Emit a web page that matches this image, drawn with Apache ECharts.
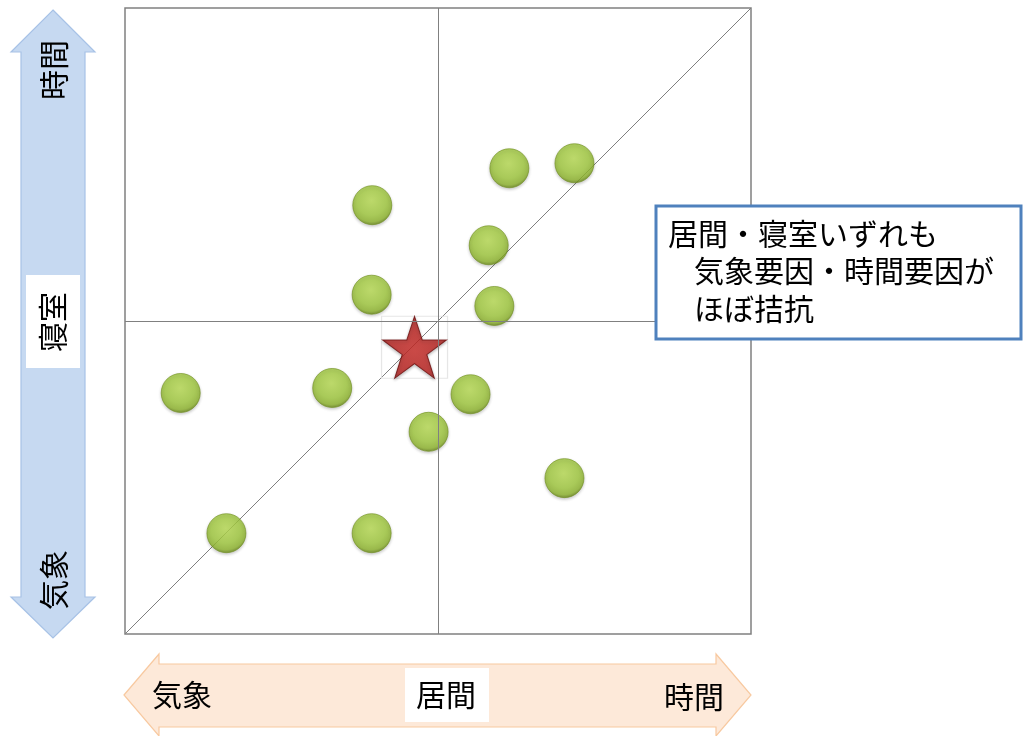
<!DOCTYPE html>
<html>
<head>
<meta charset="utf-8">
<script src="https://cdn.jsdelivr.net/npm/echarts@6/dist/echarts.min.js"></script>
<style>
  html, body { margin: 0; padding: 0; background: #ffffff; }
  #chart { width: 1024px; height: 736px; }
</style>
</head>
<body>
<div id="chart"></div>
<script>
// Horizontal position: 気象 (-5) ... 時間 (+5) for 居間
// Vertical position:   気象 (-5) ... 時間 (+5) for 寝室
const dotX = [1.14, 2.18, -1.05, 0.81, -1.06, 0.90, -4.11, -1.69, 0.52, -0.15, 2.02, -3.38, -1.06];
const dotY = [2.44, 2.52, 1.85, 1.21, 0.42, 0.24, -1.15, -1.07, -1.17, -1.77, -2.51, -3.39, -3.39];
const centerX = [-0.375];
const centerY = [-0.42];
const axisMin = -5;
const axisMax = 5;
const labelsX = ['気象', '居間', '時間'];
const labelsY = ['気象', '寝室', '時間'];
const noteLines = ['居間・寝室いずれも', '　気象要因・時間要因が', '　ほぼ拮抗'];

const FONT = '"Noto Sans CJK JP", "Noto Sans", sans-serif';
const chart = echarts.init(document.getElementById('chart'), null, { renderer: 'canvas' });

const STAR = 'path://M50,0 L61.8,35.1 L98.9,35.1 L68.8,56.8 L80.3,91.9 L50,70.2 L19.7,91.9 L31.2,56.8 L1.1,35.1 L38.2,35.1 Z';

const dotData = dotX.map((x, i) => [x, dotY[i]]);
const centerData = centerX.map((x, i) => [x, centerY[i]]);

function vText(text, x, y) {
  return {
    type: 'text', x: x, y: y, rotation: Math.PI / 2, z: 5,
    style: { text: text, x: 0, y: 0, align: 'center', verticalAlign: 'middle',
             font: '30px ' + FONT, fill: '#000000' }
  };
}
function hText(text, x, y) {
  return {
    type: 'text', x: x, y: y, z: 5,
    style: { text: text, x: 0, y: 0, align: 'center', verticalAlign: 'middle',
             font: '30px ' + FONT, fill: '#000000' }
  };
}
function noteText(text, x, y) {
  return {
    type: 'text', z: 7, x: x, y: y,
    style: { text: text, x: 0, y: 0, align: 'left', verticalAlign: 'middle',
             font: '30px ' + FONT, fill: '#000000' }
  };
}

const option = {
  backgroundColor: '#ffffff',
  animation: false,
  grid: {
    left: 125, top: 8, width: 626, height: 626,
    show: true, borderColor: '#808080', borderWidth: 1.5, backgroundColor: 'transparent'
  },
  xAxis: {
    type: 'value', min: axisMin, max: axisMax,
    axisLine: { show: false }, axisTick: { show: false },
    axisLabel: { show: false }, splitLine: { show: false }
  },
  yAxis: {
    type: 'value', min: axisMin, max: axisMax,
    axisLine: { show: false }, axisTick: { show: false },
    axisLabel: { show: false }, splitLine: { show: false }
  },
  series: [
    {
      // diagonal: both rooms equally balanced
      type: 'line',
      data: [[axisMin, axisMin], [axisMax, axisMax]],
      symbol: 'none',
      lineStyle: { color: '#7f7f7f', width: 1 },
      z: 1,
      markLine: {
        silent: true, symbol: 'none', label: { show: false },
        lineStyle: { color: '#808080', width: 1, type: 'solid' },
        data: [{ xAxis: 0 }, { yAxis: 0 }]
      }
    },
    {
      type: 'scatter',
      data: dotData,
      symbol: 'circle',
      symbolSize: 39,
      z: 3,
      itemStyle: {
        color: {
          type: 'radial', x: 0.48, y: 0.38, r: 0.62,
          colorStops: [
            { offset: 0, color: '#b8dc52' },
            { offset: 0.6, color: '#a0c93c' },
            { offset: 0.86, color: '#8db42b' },
            { offset: 1, color: '#627f12' }
          ]
        },
        borderColor: '#6f8f1e', borderWidth: 0.8,
        shadowColor: 'rgba(0,0,0,0.25)', shadowBlur: 3, shadowOffsetY: 1.5
      }
    },
    {
      type: 'scatter',
      data: centerData,
      symbol: 'rect',
      symbolSize: [66, 62],
      z: 3,
      itemStyle: { color: 'rgba(255,255,255,0)', borderColor: '#e0e0e0', borderWidth: 1.2 }
    },
    {
      type: 'scatter',
      data: centerData,
      symbol: STAR,
      symbolSize: [64, 62],
      z: 4,
      itemStyle: {
        color: {
          type: 'radial', x: 0.5, y: 0.55, r: 0.6,
          colorStops: [
            { offset: 0, color: '#cc2c28' },
            { offset: 0.7, color: '#b8201d' },
            { offset: 1, color: '#861010' }
          ]
        },
        borderColor: '#6e0e0c', borderWidth: 1,
        shadowColor: 'rgba(0,0,0,0.3)', shadowBlur: 3, shadowOffsetY: 1.5
      }
    }
  ],
  graphic: [
    // vertical double arrow (寝室)
    {
      type: 'polygon', z: 1,
      shape: { points: [[53, 10], [95, 52], [85, 52], [85, 597], [95, 597], [53, 638],
                        [11, 597], [21, 597], [21, 52], [11, 52]] },
      style: { fill: '#c6d9f1', stroke: '#a7c2e6', lineWidth: 1.2 }
    },
    { type: 'rect', z: 2, shape: { x: 26, y: 275, width: 54, height: 93 }, style: { fill: '#ffffff' } },
    vText(labelsY[2], 54, 70),
    vText(labelsY[1], 53, 322),
    vText(labelsY[0], 54, 580),
    // horizontal double arrow (居間)
    {
      type: 'polygon', z: 1,
      shape: { points: [[124, 695], [159, 654], [159, 664], [716, 664], [716, 654], [751, 695],
                        [716, 736], [716, 727], [159, 727], [159, 736]] },
      style: { fill: '#fde9d9', stroke: '#f8c9a0', lineWidth: 1.2 }
    },
    { type: 'rect', z: 2, shape: { x: 405, y: 668, width: 84, height: 54 }, style: { fill: '#ffffff' } },
    hText(labelsX[0], 182, 695),
    hText(labelsX[1], 446, 695),
    hText(labelsX[2], 694, 697),
    // note box
    {
      type: 'rect', z: 6,
      shape: { x: 656, y: 206, width: 365, height: 133 },
      style: { fill: '#ffffff', stroke: '#4f81bd', lineWidth: 3 }
    },
    noteText(noteLines[0], 668, 234),
    noteText(noteLines[1], 664, 271),
    noteText(noteLines[2], 664, 309)
  ]
};

chart.setOption(option);
</script>
</body>
</html>
